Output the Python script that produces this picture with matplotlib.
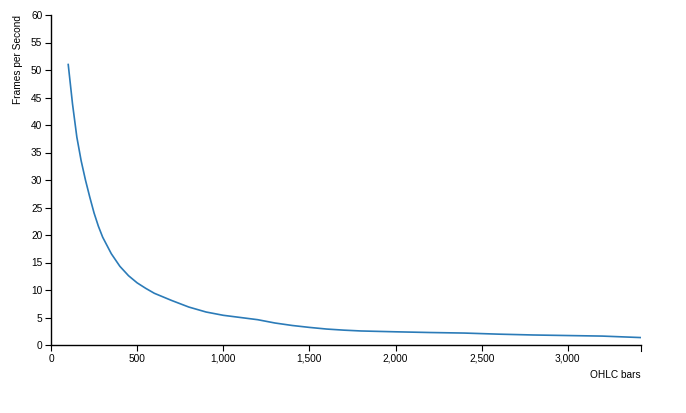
import matplotlib
matplotlib.use("Agg")
import matplotlib.pyplot as plt
from matplotlib.ticker import FuncFormatter, MultipleLocator

# Dados
ohlc_bars = [100, 125, 150, 175, 200, 225, 250, 275, 300, 350, 400, 450, 500,
             550, 600, 700, 800, 900, 1000, 1100, 1200, 1300, 1400, 1500, 1600,
             1700, 1800, 2000, 2200, 2400, 2600, 2800, 3000, 3200, 3425]
fps = [51.0, 43.8, 37.8, 33.5, 30.0, 26.9, 24.0, 21.6, 19.6, 16.6, 14.3, 12.6, 11.3,
       10.3, 9.4, 8.1, 6.9, 6.0, 5.4, 5.0, 4.6, 4.0, 3.55, 3.2, 2.9,
       2.7, 2.55, 2.4, 2.27, 2.17, 1.97, 1.82, 1.72, 1.62, 1.35]

plt.rcParams['font.family'] = ['Liberation Sans', 'DejaVu Sans']

fig = plt.figure(figsize=(6.86, 4.13), dpi=100)
W, H = 686, 413
ax = fig.add_axes([51 / W, (H - 345) / H, (641 - 51) / W, (345 - 15) / H])

ax.plot(ohlc_bars, fps, color='#2b7bb8', linewidth=1.2, solid_joinstyle='round')

ax.set_xlim(0, 3425)
ax.set_ylim(0, 60)
ax.xaxis.set_major_locator(MultipleLocator(500))
ax.yaxis.set_major_locator(MultipleLocator(5))
ax.xaxis.set_major_formatter(FuncFormatter(lambda v, p: f'{int(v):,}'))

for s in ['top', 'right']:
    ax.spines[s].set_visible(False)
for s in ['left', 'bottom']:
    ax.spines[s].set_linewidth(1.0)
    ax.spines[s].set_color('black')

ax.tick_params(axis='both', direction='out', length=4.3, width=0.8,
               labelsize=7.3, colors='black', pad=2)

# tick final do eixo x (estilo d3)
ax.plot([1, 1], [0, -6 / 330], transform=ax.transAxes, color='black',
        linewidth=0.8, clip_on=False)

fig.text(18 / W, 1 - 15 / H, 'Frames per Second', rotation=90, ha='center',
         va='top', fontsize=7.3)
fig.text(641 / W, 1 - 375 / H, 'OHLC bars', ha='right', va='center',
         fontsize=7.3)

fig.savefig('out.png', dpi=100)
